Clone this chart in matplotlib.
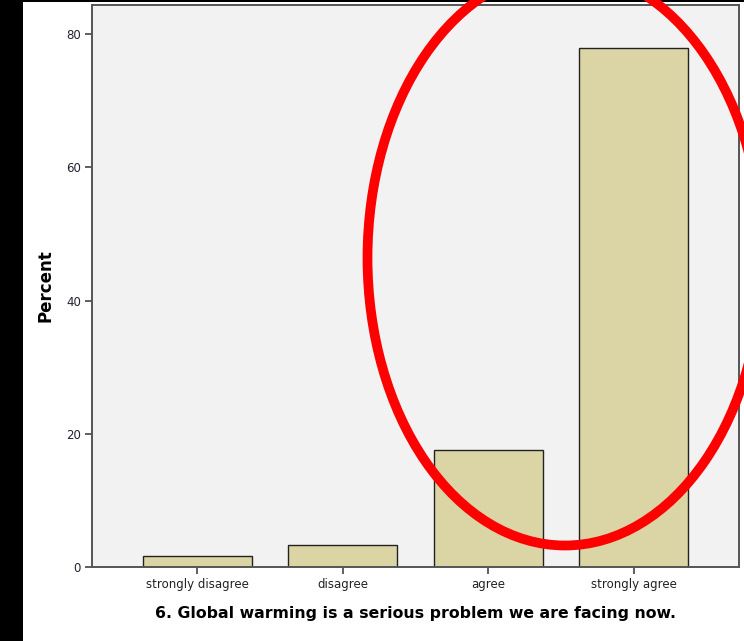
import matplotlib.pyplot as plt
from matplotlib.patches import Ellipse, Rectangle

categories = ["strongly disagree", "disagree", "agree", "strongly agree"]
percent = [1.6, 3.3, 17.5, 77.9]
yticks = [0, 20, 40, 60, 80]

fig = plt.figure(figsize=(7.44, 6.41), dpi=100)
fig.patch.set_facecolor("white")
ax = fig.add_axes([92 / 744, 74 / 641, 647 / 744, 562 / 641])
ax.set_facecolor("#f2f2f2")

x = range(len(categories))
ax.bar(x, percent, width=0.75, color="#dbd5a5", edgecolor="#222222", linewidth=1.0, zorder=2)

ax.set_xlim(-0.725, 3.725)
ax.set_ylim(0, 84.4)
ax.set_xticks(list(x))
ax.set_xticklabels(categories, fontsize=8.5, color="#222222")
ax.set_yticks(yticks)
ax.set_yticklabels([str(v) for v in yticks], fontsize=8.5, color="#222233")
ax.tick_params(axis="both", length=5, width=1.2, color="#444444", pad=3)

for side in ["left", "bottom", "top", "right"]:
    ax.spines[side].set_color("#555555")
    ax.spines[side].set_linewidth(1.4)

ax.set_xlabel("6. Global warming is a serious problem we are facing now.",
              fontsize=11.3, fontweight="bold", labelpad=11)
ax.set_ylabel("Percent", fontsize=12, fontweight="bold", labelpad=8)

# black strips at the edges of the screenshot
fig.add_artist(Rectangle((0, 0), 23 / 744, 1, transform=fig.transFigure,
                         facecolor="black", edgecolor="none", zorder=5))
fig.add_artist(Rectangle((0, 1 - 2 / 641), 1, 2 / 641, transform=fig.transFigure,
                         facecolor="black", edgecolor="none", zorder=5))

# red circle drawn over the last two bars
fig.add_artist(Ellipse((565 / 744, 1 - 258 / 641), 395 / 744, 575 / 641,
                       transform=fig.transFigure, fill=False,
                       edgecolor="#ff0000", linewidth=7, zorder=6))

fig.savefig("out.png", dpi=100)
